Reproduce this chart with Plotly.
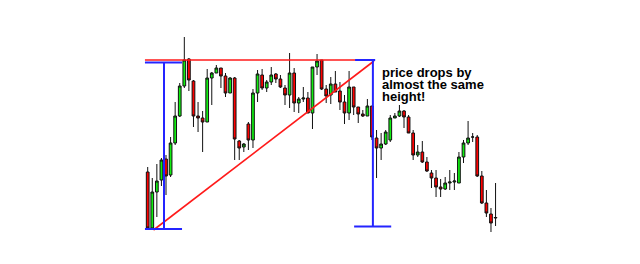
import plotly.graph_objects as go

# OHLC values (arbitrary price units)
opens = [92, 36, 72, 84, 105, 89, 121, 148, 178, 205, 183, 148, 146, 142, 186, 191, 196, 188, 171, 186,
         123, 117, 140, 124, 171, 189, 176, 182, 190, 185, 176, 169, 191, 161, 165, 166, 151, 197, 204, 175,
         169, 180, 173, 162, 151, 177, 157, 150, 148, 158, 126, 116, 120, 124, 146, 148, 153, 147, 131, 109,
         112, 102, 91, 86, 77, 75, 81, 82, 81, 107, 121, 127, 127, 88, 61, 50, 46]
highs = [97, 86, 100, 106, 109, 127, 162, 181, 227, 206, 184, 162, 153, 195, 192, 199, 196, 191, 187, 187,
         124, 121, 142, 175, 194, 195, 184, 197, 191, 189, 179, 211, 196, 167, 177, 172, 197, 210, 204, 179,
         187, 193, 182, 169, 193, 177, 157, 154, 165, 158, 134, 131, 134, 149, 151, 159, 154, 149, 134, 119,
         123, 107, 94, 94, 85, 87, 94, 91, 112, 124, 143, 131, 129, 93, 74, 56, 81]
lows = [35, 35, 47, 78, 69, 87, 119, 147, 176, 173, 137, 132, 112, 142, 159, 191, 176, 167, 171, 104,
        104, 112, 114, 116, 162, 174, 172, 179, 181, 176, 159, 156, 152, 151, 162, 151, 135, 189, 174, 161,
        160, 172, 154, 140, 144, 149, 141, 147, 148, 124, 86, 104, 119, 122, 146, 147, 136, 131, 104, 107,
        101, 92, 76, 67, 67, 74, 74, 74, 81, 101, 119, 122, 87, 60, 47, 32, 38]
closes = [36, 72, 83, 104, 88, 121, 148, 178, 204, 184, 148, 146, 142, 186, 191, 196, 188, 171, 186, 125,
          116, 120, 124, 171, 190, 176, 182, 189, 185, 177, 169, 191, 161, 165, 166, 151, 197, 203, 175, 168,
          180, 172, 162, 151, 177, 157, 150, 148, 158, 127, 116, 120, 132, 146, 148, 153, 147, 131, 109, 112,
          102, 93, 86, 77, 75, 81, 82, 83, 107, 121, 126, 127, 88, 61, 51, 41, 46.5]
idx = list(range(len(opens)))

# pattern levels
resistance = 204
triangle_low = 35
drop_low = 37.5
triangle_start, triangle_end = 1.27, 49.44
left_measure_x = 3.56
right_measure_x = 49.2
left_top = 201.5

note_lines = ["price drops by", "almost the same", "height!"]
note_y = [191.5, 180, 168]

RED = "#ff1a1a"
BLUE = "#2424ff"

fig = go.Figure(go.Candlestick(
    x=idx, open=opens, high=highs, low=lows, close=closes,
    increasing=dict(fillcolor="#11ee11", line=dict(color="#111111", width=1)),
    decreasing=dict(fillcolor="#ff0000", line=dict(color="#111111", width=1)),
    whiskerwidth=0,
))

shapes = [
    dict(x0=-0.6, x1=45.3, y0=resistance, y1=resistance, color=RED, w=1.6),
    dict(x0=triangle_start, x1=triangle_end, y0=34, y1=203, color=RED, w=1.6),
    dict(x0=left_measure_x, x1=left_measure_x, y0=left_top, y1=triangle_low, color=BLUE, w=2),
    dict(x0=-0.6, x1=7.5, y0=left_top, y1=left_top, color=BLUE, w=2),
    dict(x0=-0.6, x1=7.5, y0=triangle_low, y1=triangle_low, color=BLUE, w=2),
    dict(x0=right_measure_x, x1=right_measure_x, y0=resistance, y1=drop_low, color=BLUE, w=2),
    dict(x0=45.3, x1=49.7, y0=resistance, y1=resistance, color=BLUE, w=2),
    dict(x0=45.1, x1=53.2, y0=drop_low, y1=drop_low, color=BLUE, w=2),
]
for s in shapes:
    fig.add_shape(type="line", xref="x", yref="y", x0=s["x0"], x1=s["x1"], y0=s["y0"], y1=s["y1"],
                  line=dict(color=s["color"], width=s["w"]), layer="above")

for txt, yy in zip(note_lines, note_y):
    fig.add_annotation(x=51.0, y=yy, xref="x", yref="y", xanchor="left", yanchor="middle", align="left",
                       showarrow=False, borderpad=0,
                       text="<b>" + txt + "</b>",
                       font=dict(family="Liberation Sans, Arial, sans-serif", size=13, color="#000000"))

fig.update_layout(
    width=640, height=264, margin=dict(l=0, r=0, t=0, b=0),
    paper_bgcolor="white", plot_bgcolor="white", showlegend=False, boxgap=0.15,
    xaxis=dict(range=[-32.27, 107.56], visible=False, rangeslider=dict(visible=False), fixedrange=True),
    yaxis=dict(range=[0, 264], visible=False, fixedrange=True),
)

fig.write_html("out.html")
